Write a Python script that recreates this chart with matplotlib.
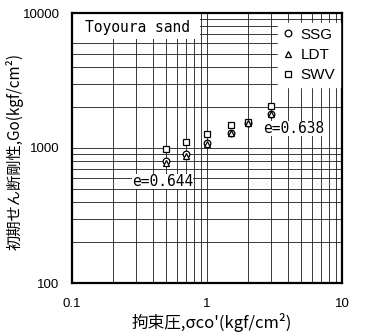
import matplotlib
matplotlib.use("Agg")
import matplotlib.pyplot as plt
from matplotlib.patches import Rectangle
from matplotlib.ticker import FixedLocator, NullFormatter, FixedFormatter

# confining pressure (kgf/cm2) and initial shear modulus (kgf/cm2)
sigma = [0.5, 0.7, 1.0, 1.5, 2.0, 3.0]
g_ssg = [800, 910, 1090, 1300, 1540, 1800]
g_ldt = [770, 870, 1070, 1285, 1520, 1790]
g_swv = [980, 1110, 1270, 1480, 1565, 2050]

x_ticks = [0.1, 1, 10]
x_labels = ["0.1", "1", "10"]
y_ticks = [100, 1000, 10000]
y_labels = ["100", "1000", "10000"]

jp = ["Noto Sans CJK JP", "DejaVu Sans"]
num_font = "Liberation Sans"
mono = "DejaVu Sans Mono"

fig = plt.figure(figsize=(3.65, 3.36), dpi=100)
ax = fig.add_axes([72 / 365, 1 - 283 / 336, 270 / 365, 270 / 336])

ax.set_xscale("log")
ax.set_yscale("log")
ax.set_xlim(0.1, 10)
ax.set_ylim(100, 10000)

ax.xaxis.set_major_locator(FixedLocator(x_ticks))
ax.xaxis.set_major_formatter(FixedFormatter(x_labels))
ax.yaxis.set_major_locator(FixedLocator(y_ticks))
ax.yaxis.set_major_formatter(FixedFormatter(y_labels))
ax.xaxis.set_minor_formatter(NullFormatter())
ax.yaxis.set_minor_formatter(NullFormatter())
ax.tick_params(which="both", length=0, labelsize=9.5)
ax.tick_params(axis="x", pad=11)
ax.tick_params(axis="y", pad=9)
for lab in ax.get_xticklabels() + ax.get_yticklabels():
    lab.set_family(num_font)

ax.grid(True, which="both", color="#1a1a1a", linewidth=0.6)
for s in ax.spines.values():
    s.set_linewidth(1.6)

ms = 4.8
ax.plot(sigma, g_ssg, "o", mfc="white", mec="black", ms=ms, mew=0.9, label="SSG", zorder=3)
ax.plot(sigma, g_ldt, "^", mfc="white", mec="black", ms=ms, mew=0.9, label="LDT", zorder=4)
ax.plot(sigma, g_swv, "s", mfc="white", mec="black", ms=ms - 0.6, mew=0.9, label="SWV", zorder=3)

leg = ax.legend(loc="upper right", bbox_to_anchor=(0.997, 0.968), frameon=True,
                handlelength=0.7, handletextpad=0.45, borderaxespad=0.1,
                labelspacing=0.4, borderpad=0.3, fancybox=False,
                edgecolor="white", framealpha=1,
                prop={"family": num_font, "size": 11})

# white panel behind the sample name
ax.add_patch(Rectangle((0, 1 - 26 / 270), 128 / 270, 26 / 270, transform=ax.transAxes,
                       facecolor="white", edgecolor="none", zorder=2))
ax.text(0.125, 7870, "Toyoura sand", fontsize=10.5, family=mono,
        va="center", ha="left", zorder=5)

ax.text(0.278, 562, "e=0.644", fontsize=10.5, family=mono, va="center", ha="left",
        bbox=dict(facecolor="white", edgecolor="none", pad=0), zorder=5)
ax.text(2.6, 1406, "e=0.638", fontsize=10.5, family=mono, va="center", ha="left",
        bbox=dict(facecolor="white", edgecolor="none", pad=0), zorder=5)

fig.text(212 / 365, 1 - 322 / 336, "拘束圧,σco'(kgf/cm²)", family=jp, fontsize=12,
         ha="center", va="center")
fig.text(15 / 365, 1 - 152 / 336, "初期せん断剛性,Go(kgf/cm²)", family=jp, fontsize=11,
         ha="center", va="center", rotation=90)

fig.savefig("out.png", dpi=100)
